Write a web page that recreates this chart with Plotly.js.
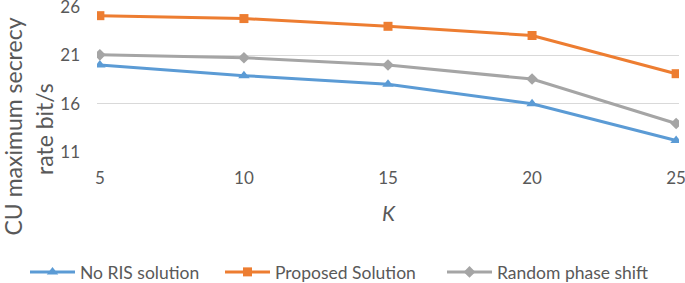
<!DOCTYPE html>
<html>
<head>
<meta charset="utf-8">
<script src="https://cdn.plot.ly/plotly-3.0.1.min.js"></script>
<style>html,body{margin:0;padding:0;background:#fff;}#chart{width:685px;height:283px;}</style>
</head>
<body>
<div id="chart"></div>
<script>
const K = [5, 10, 15, 20, 25];
const noRIS = [20.0, 18.9, 18.0, 16.0, 12.2];
const proposed = [25.1, 24.8, 24.0, 23.05, 19.1];
const randomPhase = [21.05, 20.75, 20.0, 18.55, 13.95];
const seriesNames = ["No RIS solution", "Proposed Solution", "Random phase shift"];
const yTicks = [11, 16, 21, 26];
const xTicks = [5, 10, 15, 20, 25];
const yTitleLines = ["CU maximum secrecy", "rate bit/s"];
const xTitle = "K";

const FONT = "Lato, 'Open Sans', sans-serif";
const TXT = "#595959";

function tr(y, name, color, symbol, size, leg) {
  return {
    x: K, y: y, name: name, type: "scatter", mode: "lines+markers",
    line: {color: color, width: 3},
    marker: {color: color, symbol: symbol, size: size},
    legend: leg
  };
}

const data = [
  tr(noRIS, seriesNames[0], "#5B9BD5", "triangle-up", 10, "legend"),
  tr(proposed, seriesNames[1], "#ED7D31", "square", 9, "legend2"),
  tr(randomPhase, seriesNames[2], "#A5A5A5", "diamond", 9, "legend3")
];

// plot area: x 5 -> 100px, 25 -> 676px ; y 26 -> 7.3px, 11 -> 152.3px
const L = 97, R = 685 - 679, T = 6, B = 283 - 153;
const pw = 685 - L - R, ph = 283 - T - B;
const px = v => (v - L) / pw;
const py = v => (283 - B - v) / ph;

function leg(xPix) {
  return {
    orientation: "h", xref: "container", yref: "container",
    x: xPix / 685, xanchor: "left", y: 1 - 272 / 283, yanchor: "middle",
    font: {family: FONT, size: 17.5, color: TXT}, itemgap: 0, itemwidth: 45,
    bgcolor: "rgba(0,0,0,0)"
  };
}

const layout = {
  width: 685, height: 283,
  margin: {l: L, r: R, t: T, b: B, autoexpand: false},
  paper_bgcolor: "#fff", plot_bgcolor: "#fff",
  font: {family: FONT, color: TXT, size: 17},
  showlegend: true,
  legend: leg(25),
  legend2: leg(220),
  legend3: leg(442),
  xaxis: {
    range: [4.9, 25.1], tickvals: xTicks, ticktext: xTicks.map(String),
    showgrid: false, zeroline: false, showline: false, ticks: "",
    ticklabelstandoff: 13, ticklabeloverflow: "allow", tickfont: {size: 17, color: TXT}, fixedrange: true
  },
  yaxis: {
    range: [10.9, 26.1], tickvals: yTicks, ticktext: yTicks.map(String),
    showgrid: true, gridcolor: "#D9D9D9", gridwidth: 1, zeroline: false, showline: false, ticks: "",
    ticklabelstandoff: 16, ticklabeloverflow: "allow", tickfont: {size: 17, color: TXT}, fixedrange: true
  },
  annotations: [
    {text: yTitleLines[0], textangle: -90, xref: "paper", yref: "paper",
     x: px(12.5), y: py(127), xanchor: "center", yanchor: "middle", showarrow: false,
     font: {family: FONT, size: 23, color: TXT}},
    {text: yTitleLines[1], textangle: -90, xref: "paper", yref: "paper",
     x: px(44), y: py(129), xanchor: "center", yanchor: "middle", showarrow: false,
     font: {family: FONT, size: 23, color: TXT}},
    {text: "<i>" + xTitle + "</i>", xref: "paper", yref: "paper",
     x: px(389), y: py(212.5), xanchor: "center", yanchor: "middle", showarrow: false,
     font: {family: FONT, size: 21, color: TXT}}
  ]
};

Plotly.newPlot("chart", data, layout, {displayModeBar: false, staticPlot: true});
</script>
</body>
</html>
